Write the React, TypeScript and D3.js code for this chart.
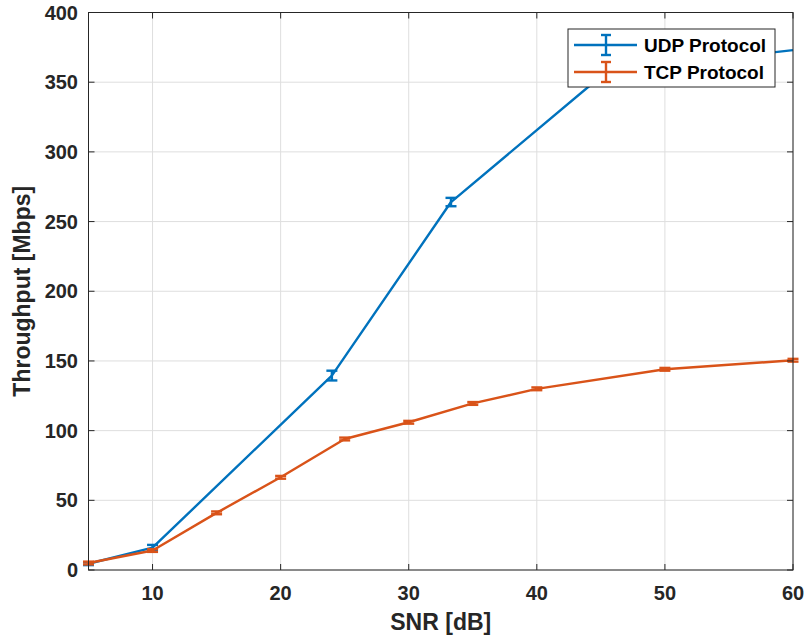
import React from "react";
import * as d3 from "d3";

const udpX = [5, 10, 24, 33.3, 45.5, 60];
const udpY = [4.5, 16, 139.5, 264, 358, 373];
const udpErr = [1, 2, 3.5, 3, 3, 0];

const tcpX = [5, 10, 15, 20, 25, 30, 35, 40, 50, 60];
const tcpY = [5, 14, 41, 66.5, 94, 106, 119.5, 130, 144, 150.5];
const tcpErr = [1, 1, 1, 1, 1, 1, 1, 1, 1, 1];

const xTicks = [10, 20, 30, 40, 50, 60];
const yTicks = [0, 50, 100, 150, 200, 250, 300, 350, 400];

const seriesNames = ["UDP Protocol", "TCP Protocol"];
const colors = ["#0072BD", "#D95319"];

const W = 809;
const H = 640;
const L = 88.5, R = 793, T = 12.5, B = 570;
const FONT = "'Liberation Sans', Arial, Helvetica, sans-serif";
const AX = "#262626";

export default function App() {
  const x = d3.scaleLinear().domain([5, 60]).range([L, R]);
  const y = d3.scaleLinear().domain([0, 400]).range([B, T]);
  const line = d3.line<[number, number]>().x((d) => x(d[0])).y((d) => y(d[1]));

  const series = [
    { xs: udpX, ys: udpY, es: udpErr, color: colors[0] },
    { xs: tcpX, ys: tcpY, es: tcpErr, color: colors[1] },
  ];
  const cap = 5.5;

  return (
    <svg width={W} height={H} style={{ position: "absolute", left: 0, top: 0, background: "#fff" }}>
      <rect x={0} y={0} width={W} height={H} fill="#fff" />
      {/* grid */}
      {xTicks.map((t) => (
        <line key={"gx" + t} x1={x(t)} x2={x(t)} y1={T} y2={B} stroke="#dedede" strokeWidth={1} />
      ))}
      {yTicks.map((t) => (
        <line key={"gy" + t} x1={L} x2={R} y1={y(t)} y2={y(t)} stroke="#dedede" strokeWidth={1} />
      ))}
      {/* series */}
      {series.map((s, si) => (
        <g key={"s" + si}>
          <path d={line(s.xs.map((v, i) => [v, s.ys[i]] as [number, number])) || ""} fill="none" stroke={s.color} strokeWidth={2.4} strokeLinejoin="round" />
          {s.xs.map((v, i) => {
            if (s.es[i] === 0) return null;
            const cx = x(v);
            const y1 = y(s.ys[i] + s.es[i]);
            const y2 = y(s.ys[i] - s.es[i]);
            return (
              <g key={i} stroke={s.color} strokeWidth={2.4}>
                <line x1={cx} x2={cx} y1={y1} y2={y2} />
                <line x1={cx - cap} x2={cx + cap} y1={y1} y2={y1} />
                <line x1={cx - cap} x2={cx + cap} y1={y2} y2={y2} />
              </g>
            );
          })}
        </g>
      ))}
      {/* axes box */}
      <rect x={L} y={T} width={R - L} height={B - T} fill="none" stroke={AX} strokeWidth={1} />
      {xTicks.map((t) => (
        <g key={"tx" + t} stroke={AX} strokeWidth={1}>
          <line x1={x(t)} x2={x(t)} y1={B} y2={B - 6} />
          <line x1={x(t)} x2={x(t)} y1={T} y2={T + 6} />
        </g>
      ))}
      {yTicks.map((t) => (
        <g key={"ty" + t} stroke={AX} strokeWidth={1}>
          <line x1={L} x2={L + 6} y1={y(t)} y2={y(t)} />
          <line x1={R} x2={R - 6} y1={y(t)} y2={y(t)} />
        </g>
      ))}
      {xTicks.map((t) => (
        <text key={"lx" + t} x={x(t)} y={600} textAnchor="middle" fontFamily={FONT} fontWeight="bold" fontSize={20} fill={AX}>
          {t}
        </text>
      ))}
      {yTicks.map((t) => (
        <text key={"ly" + t} x={78} y={y(t) + 7} textAnchor="end" fontFamily={FONT} fontWeight="bold" fontSize={20} fill={AX}>
          {t}
        </text>
      ))}
      <text x={(L + R) / 2} y={630} textAnchor="middle" fontFamily={FONT} fontWeight="bold" fontSize={23} fill={AX}>
        SNR [dB]
      </text>
      <text transform={`translate(30,${(T + B) / 2}) rotate(-90)`} textAnchor="middle" fontFamily={FONT} fontWeight="bold" fontSize={23} fill={AX}>
        Throughput [Mbps]
      </text>
      {/* legend */}
      <rect x={568} y={29} width={207} height={58} fill="#fff" stroke={AX} strokeWidth={1} />
      {seriesNames.map((n, i) => {
        const ly = 45 + i * 27;
        return (
          <g key={"lg" + i}>
            <g stroke={colors[i]} strokeWidth={2.4}>
              <line x1={574} x2={637} y1={ly} y2={ly} />
              <line x1={606} x2={606} y1={ly - 10} y2={ly + 10} />
              <line x1={601} x2={611} y1={ly - 10} y2={ly - 10} />
              <line x1={601} x2={611} y1={ly + 10} y2={ly + 10} />
            </g>
            <text x={644} y={ly + 7} fontFamily={FONT} fontWeight="bold" fontSize={19} fill="#000">
              {n}
            </text>
          </g>
        );
      })}
    </svg>
  );
}
